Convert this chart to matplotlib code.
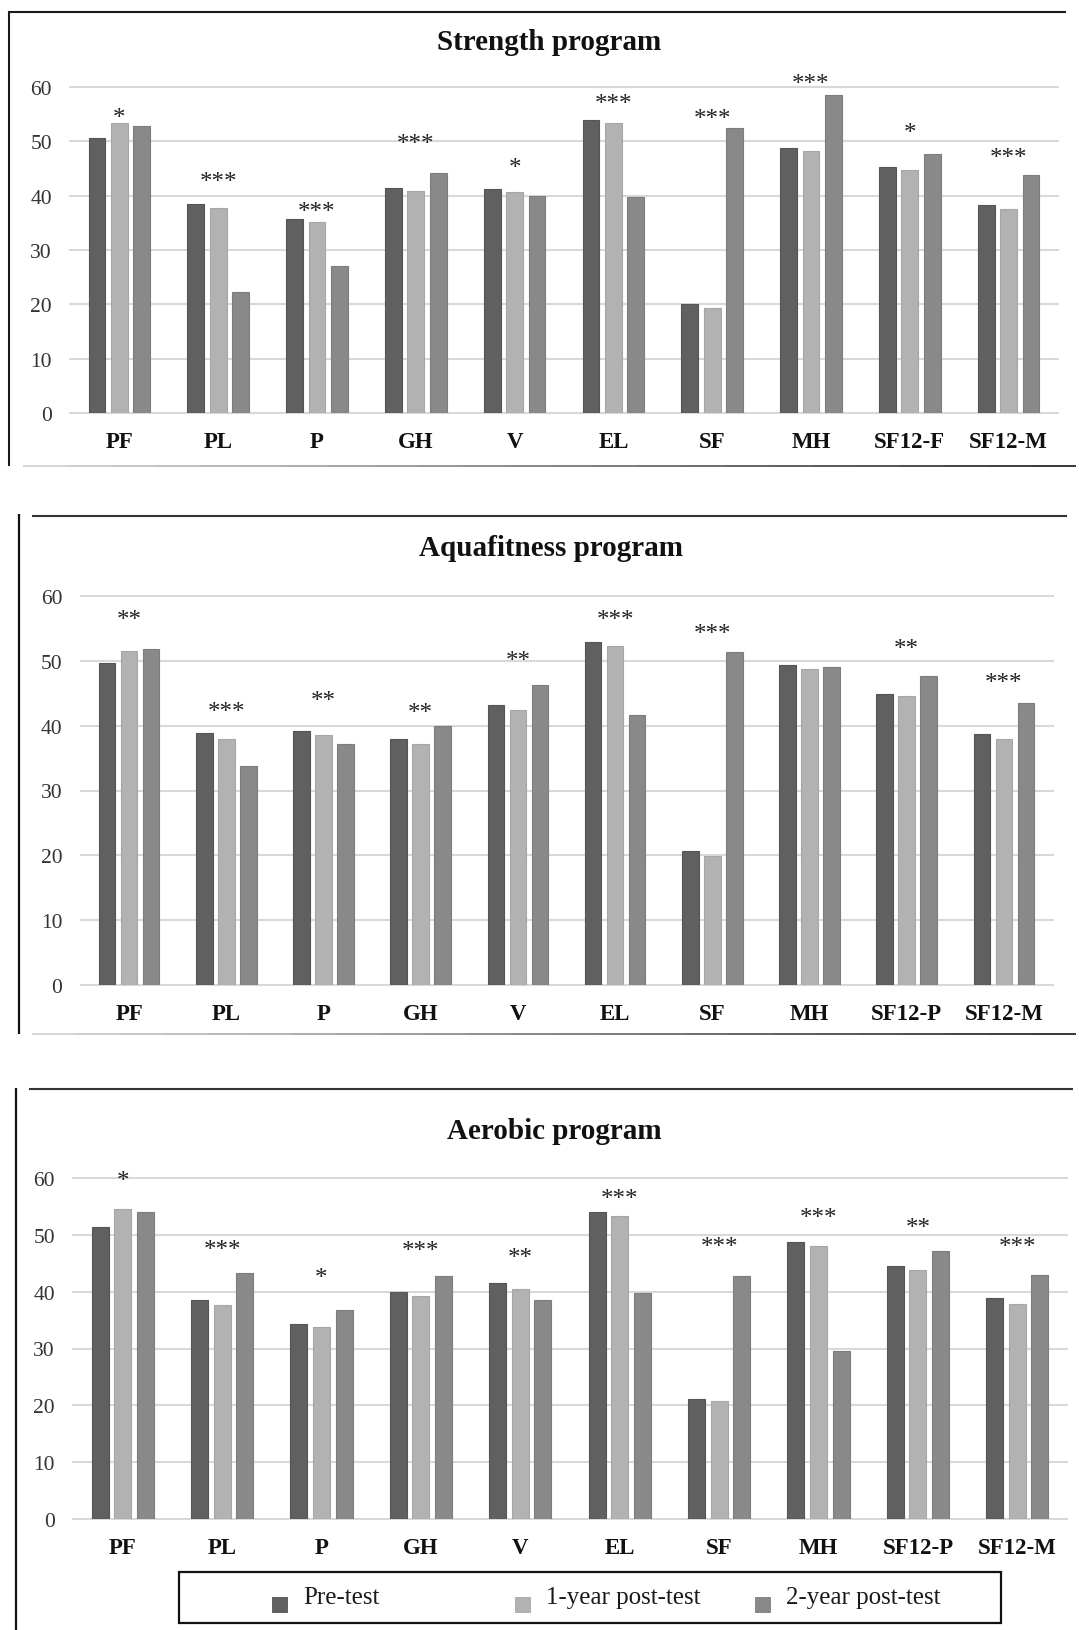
import matplotlib
matplotlib.use("Agg")
import matplotlib.pyplot as plt
from matplotlib.lines import Line2D
from matplotlib.patches import Rectangle
import numpy as np

# ---------------- data ----------------
series_names = ["Pre-test", "1-year post-test", "2-year post-test"]
y_ticks = [0, 10, 20, 30, 40, 50, 60]

strength_title = "Strength program"
strength_cats = ["PF", "PL", "P", "GH", "V", "EL", "SF", "MH", "SF12-F", "SF12-M"]
strength_pre = [50.7, 38.5, 35.7, 41.5, 41.2, 54.0, 20.0, 48.8, 45.3, 38.2]
strength_1y = [53.4, 37.8, 35.1, 40.9, 40.7, 53.4, 19.4, 48.2, 44.7, 37.6]
strength_2y = [52.8, 22.2, 27.0, 44.1, 39.9, 39.8, 52.5, 58.5, 47.6, 43.8]
strength_sig = ["*", "***", "***", "***", "*", "***", "***", "***", "*", "***"]
strength_sig_y = [55.5, 43.8, 38.2, 50.7, 46.3, 58.1, 55.3, 61.8, 52.8, 48.2]

aqua_title = "Aquafitness program"
aqua_cats = ["PF", "PL", "P", "GH", "V", "EL", "SF", "MH", "SF12-P", "SF12-M"]
aqua_pre = [49.7, 38.8, 39.2, 38.0, 43.2, 52.9, 20.7, 49.4, 44.9, 38.7]
aqua_1y = [51.5, 38.0, 38.5, 37.2, 42.4, 52.3, 19.9, 48.7, 44.5, 37.9]
aqua_2y = [51.8, 33.8, 37.2, 39.9, 46.3, 41.6, 51.3, 49.1, 47.6, 43.5]
aqua_sig = ["**", "***", "**", "**", "**", "***", "***", "", "**", "***"]
aqua_sig_y = [57.4, 43.2, 44.8, 43.1, 51.1, 57.4, 55.2, 0, 52.9, 47.6]

aero_title = "Aerobic program"
aero_cats = ["PF", "PL", "P", "GH", "V", "EL", "SF", "MH", "SF12-P", "SF12-M"]
aero_pre = [51.3, 38.5, 34.3, 40.0, 41.5, 54.0, 21.2, 48.7, 44.5, 38.8]
aero_1y = [54.6, 37.6, 33.7, 39.3, 40.5, 53.4, 20.7, 48.1, 43.9, 37.9]
aero_2y = [54.1, 43.3, 36.7, 42.7, 38.5, 39.8, 42.7, 29.6, 47.2, 43.0]
aero_sig = ["*", "***", "*", "***", "**", "***", "***", "***", "**", "***"]
aero_sig_y = [60.7, 48.6, 43.7, 48.4, 47.1, 57.5, 49.0, 54.2, 52.4, 49.0]

# ---------------- style ----------------
colors = ["#606060", "#b2b2b2", "#898989"]
edge_colors = ["#555555", "#a6a6a6", "#7d7d7d"]
SERIF = ["Liberation Serif", "DejaVu Serif"]
plt.rcParams["font.family"] = SERIF

W, H = 1079, 1631
fig = plt.figure(figsize=(W / 100, H / 100), dpi=100)
fig.patch.set_facecolor("white")


def fx(px):
    return px / W


def fy(py):
    return 1 - py / H


def fig_line(x0, y0, x1, y1, color="#1a1a1a", lw=1.5):
    fig.add_artist(Line2D([fx(x0), fx(x1)], [fy(y0), fy(y1)], color=color,
                          lw=lw, solid_capstyle="butt"))


def gradient_line(x0, x1, y, g0=0.82, g1=0.15, n=24, lw=1.3):
    xs = np.linspace(x0, x1, n + 1)
    for k in range(n):
        g = g0 + (g1 - g0) * (k / (n - 1))
        fig_line(xs[k], y, xs[k + 1], y, (g, g, g), lw)


def panel(box, title, title_xy, cats, pre, y1, y2, sig, sig_y):
    left, top, right, bottom = box
    ax = fig.add_axes([fx(left), fy(bottom), (right - left) / W, (bottom - top) / H])
    x = np.arange(len(cats))
    width = 0.171
    step = 0.227
    for i, vals in enumerate([pre, y1, y2]):
        ax.bar(x + (i - 1) * step, vals, width, color=colors[i],
               edgecolor=edge_colors[i], linewidth=0.8, zorder=3,
               label=series_names[i])
    for xi, s, sy in zip(x, sig, sig_y):
        if s:
            ax.annotate(s, (xi, sy), xytext=(0, -5), textcoords="offset points",
                        ha="center", va="center", fontsize=18, color="#222222",
                        annotation_clip=False)
    ax.set_xlim(-0.5, len(cats) - 0.5)
    ax.set_ylim(0, 60)
    ax.set_yticks(y_ticks)
    ax.set_xticks(x)
    ax.set_xticklabels(cats, fontsize=16.5, fontweight="bold", color="#111111")
    ax.tick_params(axis="x", length=0, pad=13)
    ax.tick_params(axis="y", length=0, pad=13, labelsize=15.5, labelcolor="#333333")
    ax.yaxis.grid(True, color="#d9d9d9", linewidth=1.5, zorder=0)
    ax.set_axisbelow(True)
    for gl in ax.get_ygridlines():
        gl.set_clip_on(False)
    for sp in ax.spines.values():
        sp.set_visible(False)
    ax.set_facecolor("none")
    fig.text(fx(title_xy[0]), fy(title_xy[1]), title, ha="center", va="center",
             fontsize=21, fontweight="bold", color="#111111")
    return ax


panel((70, 88, 1058, 414), strength_title, (549, 42), strength_cats,
      strength_pre, strength_1y, strength_2y, strength_sig, strength_sig_y)
panel((80.5, 597, 1052.5, 986), aqua_title, (551, 549), aqua_cats,
      aqua_pre, aqua_1y, aqua_2y, aqua_sig, aqua_sig_y)
panel((73, 1179, 1067, 1520), aero_title, (554, 1132), aero_cats,
      aero_pre, aero_1y, aero_2y, aero_sig, aero_sig_y)

# ---------------- frames ----------------
# panel 1
fig_line(8, 13, 1066, 13, "#1a1a1a", 1.5)
fig_line(9, 12, 9, 467, "#1a1a1a", 1.5)
gradient_line(23, 1076, 466.5)
# panel 2
fig_line(32, 517, 1067, 517, "#333333", 1.5)
fig_line(19, 515, 19, 1035, "#111111", 1.6)
gradient_line(32, 1076, 1035)
# panel 3
fig_line(29, 1090, 1073, 1090, "#333333", 1.5)
fig_line(16, 1089, 16, 1631, "#111111", 1.6)

# ---------------- legend ----------------
fig.add_artist(Rectangle((fx(179), fy(1624)), (1001 - 179) / W, (1624 - 1573) / H,
                         transform=fig.transFigure, facecolor="white",
                         edgecolor="#111111", linewidth=1.6))
leg_marker_x = [279.5, 522, 762.5]
for i, name in enumerate(series_names):
    cx = leg_marker_x[i]
    fig.add_artist(Rectangle((fx(cx - 7.5), fy(1613)), 15 / W, 15 / H,
                             transform=fig.transFigure, facecolor=colors[i],
                             edgecolor=edge_colors[i], linewidth=0.6))
    fig.text(fx(cx + 23.5), fy(1598), name, ha="left", va="center",
             fontsize=18, color="#1a1a1a")

fig.savefig("out.png", dpi=100, facecolor="white")
